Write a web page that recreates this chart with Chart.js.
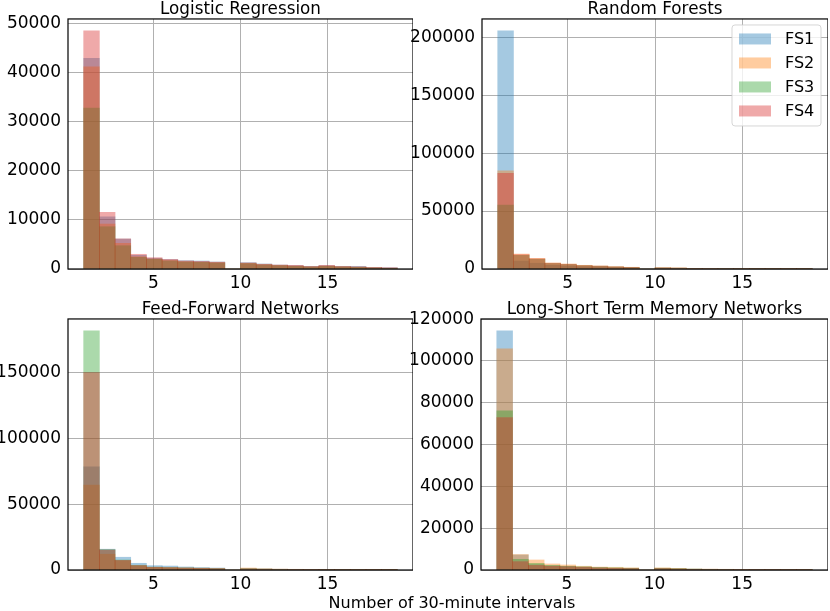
<!DOCTYPE html>
<html>
<head>
<meta charset="utf-8">
<script src="https://cdn.jsdelivr.net/npm/chart.js@4.4.1/dist/chart.umd.min.js"></script>
<style>
  html, body { margin: 0; padding: 0; background: #fff; }
  body { width: 830px; height: 611px; position: relative; overflow: hidden; font-family: "DejaVu Sans", sans-serif; }
  canvas { position: absolute; }
  #xlabel { position: absolute; left: 452px; top: 602px; transform: translate(-50%, -50%); font-size: 16px; color: #000; white-space: nowrap; }
</style>
</head>
<body>
<canvas id="lr" width="413" height="299" style="left:0px;top:0px"></canvas>
<canvas id="rf" width="426" height="299" style="left:402px;top:0px"></canvas>
<canvas id="ff" width="413" height="300" style="left:0px;top:300px"></canvas>
<canvas id="lstm" width="427" height="300" style="left:401px;top:300px"></canvas>
<div id="xlabel">Number of 30-minute intervals</div>
<script>
(function () {
  'use strict';

  // bin centres (20 bins of width 0.9 between 1 and 19)
  const binCenters = [1.45, 2.35, 3.25, 4.15, 5.05, 5.95, 6.85, 7.75, 8.65, 9.55,
    10.45, 11.35, 12.25, 13.15, 14.05, 14.95, 15.85, 16.75, 17.65, 18.55];
  const xTicks = [5, 10, 15];
  const seriesNames = ['FS1', 'FS2', 'FS3', 'FS4'];

  // Logistic Regression
  const lrFS1 = [42950, 10660, 6100, 2790, 2200, 1900, 1700, 1630, 1430, 0, 1290, 1020, 800, 700, 540, 680, 540, 540, 340, 270];
  const lrFS2 = [41240, 9170, 5240, 2500, 2050, 1750, 1500, 1420, 1300, 0, 1150, 900, 720, 600, 450, 600, 460, 380, 260, 180];
  const lrFS3 = [32800, 8630, 4760, 2380, 1970, 1630, 1430, 1360, 1220, 0, 1090, 820, 680, 540, 410, 540, 410, 340, 200, 140];
  const lrFS4 = [48570, 11560, 6150, 3000, 2300, 1970, 1650, 1550, 1400, 0, 1250, 980, 820, 750, 520, 750, 520, 450, 320, 250];
  const lrTicks = [0, 10000, 20000, 30000, 40000, 50000];

  // Random Forests
  const rfFS1 = [205440, 6900, 5000, 3200, 2600, 2000, 1700, 1300, 1000, 0, 700, 550, 400, 320, 260, 220, 180, 150, 120, 90];
  const rfFS2 = [84600, 12900, 9200, 5200, 4300, 3200, 2600, 2000, 1500, 0, 1100, 900, 600, 500, 400, 350, 300, 250, 200, 150];
  const rfFS3 = [55200, 11800, 8400, 4800, 3900, 2900, 2400, 1800, 1350, 0, 1000, 800, 550, 450, 360, 310, 260, 220, 180, 130];
  const rfFS4 = [82600, 12400, 8800, 5000, 4100, 3000, 2500, 1900, 1400, 0, 1050, 850, 580, 480, 380, 330, 280, 230, 190, 140];
  const rfTicks = [0, 50000, 100000, 150000, 200000];

  // Feed-Forward Networks
  const ffFS1 = [78500, 15800, 9700, 5100, 3300, 3000, 2300, 1800, 1500, 0, 1200, 900, 600, 500, 400, 350, 300, 250, 200, 150];
  const ffFS2 = [64600, 12000, 7100, 3300, 2000, 1800, 1500, 1300, 1000, 0, 1500, 1000, 700, 550, 450, 400, 350, 300, 230, 180];
  const ffFS3 = [181700, 15500, 7600, 3600, 2200, 1900, 1600, 1400, 1100, 0, 900, 600, 450, 350, 300, 250, 200, 180, 140, 100];
  const ffFS4 = [150000, 15200, 7300, 3400, 2100, 1850, 1550, 1350, 1050, 0, 800, 500, 400, 300, 250, 200, 180, 150, 110, 80];
  const ffTicks = [0, 50000, 100000, 150000];

  // Long-Short Term Memory Networks
  const lstmFS1 = [114380, 7200, 2600, 2000, 1700, 1400, 1100, 900, 800, 0, 800, 600, 450, 350, 300, 260, 220, 180, 140, 100];
  const lstmFS2 = [105800, 7400, 4800, 2900, 2400, 1800, 1400, 1300, 1000, 0, 1000, 800, 500, 420, 350, 300, 260, 220, 180, 140];
  const lstmFS3 = [76100, 5100, 3200, 2200, 1800, 1500, 1200, 1000, 850, 0, 850, 650, 400, 330, 280, 240, 200, 170, 130, 100];
  const lstmFS4 = [72900, 4000, 2200, 1800, 1600, 1300, 1000, 800, 700, 0, 700, 500, 300, 260, 220, 190, 160, 130, 100, 70];
  const lstmTicks = [0, 20000, 40000, 60000, 80000, 100000, 120000];

  // matplotlib tab10, alpha 0.4
  const colors = ['rgba(31,119,180,0.4)', 'rgba(255,127,14,0.4)', 'rgba(44,160,44,0.4)', 'rgba(214,39,40,0.4)'];
  const font = 'DejaVu Sans';

  // 枠線 (4 spines)
  const spines = {
    id: 'spines',
    afterDraw(chart) {
      const { ctx, chartArea: a } = chart;
      ctx.save();
      ctx.strokeStyle = '#000';
      ctx.lineWidth = 1.2;
      ctx.strokeRect(a.left, a.top, a.right - a.left, a.bottom - a.top);
      ctx.restore();
    }
  };

  // matplotlib-like legend box (upper right)
  const boxLegend = {
    id: 'boxLegend',
    afterDraw(chart) {
      const { ctx, chartArea: a } = chart;
      const w = 89, h = 101;
      const x = a.right - 7 - w, y = a.top + 6;
      ctx.save();
      ctx.beginPath();
      ctx.roundRect(x, y, w, h, 3);
      ctx.fillStyle = 'rgba(255,255,255,0.8)';
      ctx.fill();
      ctx.strokeStyle = 'rgba(204,204,204,0.8)';
      ctx.lineWidth = 1;
      ctx.stroke();
      ctx.font = '16px "' + font + '"';
      ctx.textBaseline = 'middle';
      chart.data.datasets.forEach(function (ds, i) {
        const cy = y + 14 + i * 24;
        ctx.fillStyle = ds.backgroundColor;
        ctx.fillRect(x + 7, cy - 5.5, 32, 11);
        ctx.fillStyle = '#000';
        ctx.fillText(ds.label, x + 53, cy + 1);
      });
      ctx.restore();
    }
  };

  function makeChart(id, title, series, yTicks, yWidth, legend) {
    const datasets = series.map(function (vals, i) {
      return {
        label: seriesNames[i],
        data: vals.map(function (v, k) { return { x: binCenters[k], y: v }; }),
        backgroundColor: colors[i],
        borderWidth: 0,
        barPercentage: 1,
        categoryPercentage: 1,
        grouped: false,
        order: -i, // FS4 drawn last, like matplotlib
      };
    });
    let yMax = 0;
    series.forEach(function (vals) { vals.forEach(function (v) { if (v > yMax) yMax = v; }); });

    new Chart(document.getElementById(id), {
      type: 'bar',
      data: { datasets: datasets },
      options: {
        responsive: false,
        animation: false,
        events: [],
        layout: { padding: 0 },
        plugins: {
          legend: { display: false },
          tooltip: { enabled: false },
          title: {
            display: true,
            fullSize: false, // centre over the plot area
            text: title,
            color: '#000',
            font: { family: font, size: 16.8, weight: 'normal', lineHeight: 0.95 },
            padding: { top: 2, bottom: 1 },
          },
        },
        scales: {
          x: {
            type: 'linear',
            min: 0.1,
            max: 19.9,
            offset: false,
            z: 1,
            grid: { color: '#b0b0b0', lineWidth: 1, drawTicks: false, offset: false },
            border: { display: false },
            ticks: { color: '#000', padding: 4, font: { family: font, size: 17 }, maxRotation: 0 },
            afterBuildTicks: function (s) { s.ticks = xTicks.map(function (v) { return { value: v }; }); },
            afterFit: function (s) { s.height = 30; },
          },
          y: {
            min: 0,
            max: yMax * 1.05,
            z: 1,
            grid: { color: '#b0b0b0', lineWidth: 1, drawTicks: false },
            border: { display: false },
            ticks: {
              color: '#000', padding: 7, font: { family: font, size: 17 },
              callback: function (v) { return String(v); },
            },
            afterBuildTicks: function (s) { s.ticks = yTicks.map(function (v) { return { value: v }; }); },
            afterFit: function (s) { s.width = yWidth; },
          },
        },
      },
      plugins: legend ? [spines, boxLegend] : [spines],
    });
  }

  makeChart('lr', 'Logistic Regression', [lrFS1, lrFS2, lrFS3, lrFS4], lrTicks, 68, false);
  makeChart('rf', 'Random Forests', [rfFS1, rfFS2, rfFS3, rfFS4], rfTicks, 80, true);
  makeChart('ff', 'Feed-Forward Networks', [ffFS1, ffFS2, ffFS3, ffFS4], ffTicks, 68, false);
  makeChart('lstm', 'Long-Short Term Memory Networks', [lstmFS1, lstmFS2, lstmFS3, lstmFS4], lstmTicks, 80, false);
})();
</script>
</body>
</html>
